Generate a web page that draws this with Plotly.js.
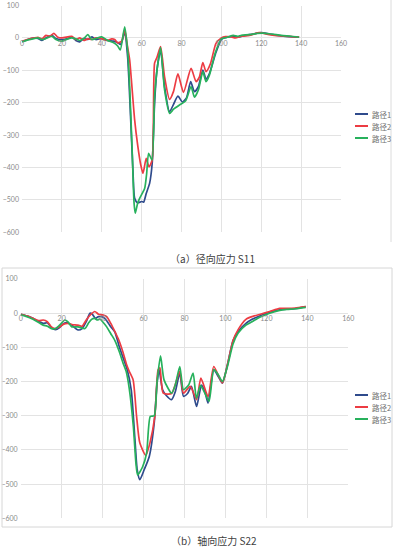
<!DOCTYPE html>
<html>
<head>
<meta charset="utf-8">
<script src="https://cdn.plot.ly/plotly-3.0.1.min.js"></script>
<style>html,body{margin:0;padding:0;background:#fff;}#chart{width:395px;height:549px;}</style>
</head>
<body>
<div id="chart"></div>
<script>
// ---- data ----
const seriesNames = ['路径1', '路径2', '路径3'];
const captionA = '（a）径向应力 S11';
const captionB = '（b）轴向应力 S22';
const xTickVals = [0, 20, 40, 60, 80, 100, 120, 140, 160];
const yTickVals = [100, 0, -100, -200, -300, -400, -500, -600];

// (a) S11
const s11P1X = [0,3,6,8,10,12,15,17,20,23,25,27,29,31,33,35,37,40,43,46,48,49.5,51.5,53,54.5,55.7,56.5,58,60,61,62.3,64,65.3,66.5,67.7,69.5,71.5,74,76,78.2,80.5,82.5,84.6,86.5,88.5,90.7,92.3,94,97,100,103,106,109,112,116,120,124,128,132,136,139];
const s11P1Y = [-12,-5,0,-2,-8,0,8,-2,-5,-2,3,-8,-12,-2,-5,3,-5,-2,-8,-10,-15,-20,15,-60,-250,-418,-495,-509,-505,-507,-480,-449,-387,-202,-99,-38,-150,-228,-205,-180,-198,-185,-135,-166,-150,-99,-127,-110,-50,-5,2,5,3,8,12,16,12,8,5,3,2];
const s11P2X = [0,3,6,8,10,12,14,16,18,20,23,25,27,29,31,33,35,37,40,43,45,46.5,48,50,51.5,53,54,55,56.5,58,59.5,60.7,62.3,63.7,65.3,66.5,67.7,69.5,71.5,74,76,78.2,81,84.8,87.3,89,90.7,92.3,94.5,97.3,100,102,105,107,110,114,119,124,130,135,139];
const s11P2Y = [-10,-4,0,2,-3,8,5,14,2,0,3,5,-5,0,-8,-3,-5,0,-2,-8,-3,-5,-15,-10,25,-30,-68,-140,-253,-330,-390,-418,-372,-398,-377,-78,-60,-27,-120,-190,-165,-111,-168,-94,-135,-120,-76,-104,-80,-17,0,4,3,0,5,8,16,10,6,4,3];
const s11P3X = [0,3,6,8,10,12,15,17,20,23,25,27,29,31,33,35,37,40,43,46,48,49.3,51.5,53,54,55.3,56.2,56.8,58,59,61.5,62.5,63.5,65.2,66.5,67.7,69.5,71.5,74,76,79,82,84.8,86.5,88.5,90.7,92.3,94,97,100,103,106,108,110,114,118,121,125,130,135,139];
const s11P3Y = [-12,-6,-2,0,-5,-2,5,-5,-10,-3,0,-3,-8,-2,10,-5,-2,3,-8,-15,-25,-37,34,-40,-150,-356,-509,-541,-510,-495,-465,-420,-356,-377,-180,-100,-30,-160,-233,-220,-207,-195,-150,-183,-160,-104,-135,-115,-45,-3,2,8,5,8,10,14,15,12,8,5,2];

// (b) S22
const s22P1X = [0,3,6,9,11,13,15,17,19,21,23,25,28,30,32,33.8,35,36.5,38,40.3,42,44,46,48,50,52,54,55.8,56.9,58.2,60.3,62.8,65.2,66.6,67.6,69.3,71,73.7,75.5,77.7,79.5,81.5,83.4,85.9,88.3,90,91.5,94.3,96.5,98.5,101,103.7,106.2,110,113,116.7,121.6,126.5,130,134,139.2];
const s22P1Y = [-3,-8,-15,-25,-30,-28,-42,-48,-42,-30,-28,-35,-49,-45,-25,0,-3,-15,-10,-12,-22,-40,-55,-95,-130,-165,-225,-370,-458,-487,-458,-419,-322,-205,-166,-224,-240,-253,-230,-175,-243,-235,-214,-273,-210,-230,-263,-166,-185,-205,-150,-80,-54,-30,-18,-8,3,10,12,13,19];
const s22P2X = [0,3,6,9,11,13,15,17,19,21,23,25,28,30,32,34,36.2,38,40,42,44,46,48,50,51.7,53,54.9,56.6,58.2,61.1,63.1,65.5,67.1,68,69.6,73.7,77.7,79.5,82.8,85.9,88,91.5,94.3,98.5,101,103.7,106.2,110,113,117,121.6,126.5,130,134,139.2];
const s22P2Y = [-3,-8,-15,-22,-20,-25,-40,-45,-40,-32,-30,-33,-35,-38,-20,-5,5,-3,-5,-10,-30,-54,-80,-115,-150,-170,-195,-302,-380,-416,-380,-302,-166,-160,-234,-235,-170,-234,-214,-253,-190,-244,-156,-204,-150,-80,-48,-18,-10,-3,5,14,14,15,19];
const s22P3X = [0,3,6,9,11,13,15,17,19,21.6,23,25,28,31.4,33,34.6,36,37.5,38.7,40,42,44,46,48,50,51.5,53,55,56.3,57.1,59.5,61.5,63.3,65.2,66.6,68.3,70,73.7,75.5,77.7,79.5,82,84.2,85.8,87.8,90,92,94.3,96.5,98.5,101,103.7,106.2,110,113,116.7,121.6,126.5,130,134,139.2];
const s22P3Y = [-5,-10,-18,-28,-35,-38,-45,-45,-35,-20,-25,-40,-40,-45,-30,-18,-15,-20,-17,-25,-40,-60,-80,-110,-146,-170,-220,-330,-440,-473,-450,-409,-302,-300,-200,-125,-195,-234,-210,-156,-224,-210,-175,-249,-211,-235,-258,-165,-180,-200,-155,-90,-58,-35,-25,-12,0,8,11,13,17];

// ---- styling ----
const colors = ['#2f4b8c', '#ec3c43', '#27b15c'];
const W = 395, H = 549;
const px = v => v / W;
const py = v => 1 - v / H;
const gridColor = '#e3e3e3';
const tickFont = {family: 'Lato, "Liberation Sans", sans-serif', size: 7, color: '#8a8a8a'};

function mk(x, y, i, xa, ya) {
  return {
    x: x, y: y, type: 'scatter', mode: 'lines', name: seriesNames[i],
    xaxis: xa, yaxis: ya, showlegend: false,
    line: {color: colors[i], width: 1.7, shape: 'spline', smoothing: 0.6},
    hoverinfo: 'skip'
  };
}

const traces = [
  mk(s11P1X, s11P1Y, 0, 'x', 'y'),
  mk(s11P2X, s11P2Y, 1, 'x', 'y'),
  mk(s11P3X, s11P3Y, 2, 'x', 'y'),
  mk(s22P1X, s22P1Y, 0, 'x2', 'y2'),
  mk(s22P2X, s22P2Y, 1, 'x2', 'y2'),
  mk(s22P3X, s22P3Y, 2, 'x2', 'y2')
];

function xAx(domain, pos) {
  return {
    domain: domain, range: [0, 160], anchor: 'free', position: pos,
    tickvals: xTickVals, showgrid: true, gridcolor: gridColor, gridwidth: 1,
    zeroline: false, showline: false, ticks: '', tickfont: tickFont, fixedrange: true
  };
}
function yAx(domain, anchor) {
  return {
    domain: domain, range: [-600, 100], anchor: anchor,
    tickvals: yTickVals, showgrid: true, gridcolor: gridColor, gridwidth: 1,
    zeroline: false, showline: false, ticks: '', tickfont: tickFont, fixedrange: true,
    ticklabelstandoff: 2
  };
}

const shapes = [];
const annotations = [];

// frames
shapes.push({type: 'rect', xref: 'paper', yref: 'paper', x0: px(2), x1: px(392), y0: py(527), y1: py(268), line: {color: '#d6d6d6', width: 1}});
shapes.push({type: 'line', xref: 'paper', yref: 'paper', x0: px(391), x1: px(391), y0: py(0), y1: py(242), line: {color: '#dcdcdc', width: 1}});

// manual legends
function legend(yTops) {
  seriesNames.forEach((n, i) => {
    const yy = yTops[i];
    shapes.push({type: 'line', xref: 'paper', yref: 'paper', x0: px(355), x1: px(368), y0: py(yy), y1: py(yy), line: {color: colors[i], width: 2}});
    annotations.push({xref: 'paper', yref: 'paper', x: px(369.5), y: py(yy), xanchor: 'left', yanchor: 'middle', text: n, showarrow: false,
      font: {family: '"Noto Sans CJK SC", sans-serif', size: 7.5, color: '#707070'}});
  });
}
legend([114, 126, 138]);
legend([395, 407, 419]);

// captions
annotations.push({xref: 'paper', yref: 'paper', x: px(212), y: py(258), xanchor: 'center', yanchor: 'middle', text: captionA, showarrow: false,
  font: {family: '"Noto Sans CJK SC", sans-serif', size: 10, color: '#404040'}});
annotations.push({xref: 'paper', yref: 'paper', x: px(214), y: py(540), xanchor: 'center', yanchor: 'middle', text: captionB, showarrow: false,
  font: {family: '"Noto Sans CJK SC", sans-serif', size: 10, color: '#404040'}});

const layout = {
  width: W, height: H,
  margin: {l: 0, r: 0, t: 0, b: 0},
  paper_bgcolor: '#ffffff', plot_bgcolor: 'rgba(0,0,0,0)',
  showlegend: false,
  xaxis: xAx([px(22), px(341)], py(37.9)),
  yaxis: yAx([py(232.3), py(5.5)], 'x'),
  xaxis2: xAx([px(20.7), px(348.3)], py(313.3)),
  yaxis2: yAx([py(518.3), py(279)], 'x2'),
  shapes: shapes,
  annotations: annotations
};

Plotly.newPlot('chart', traces, layout, {displayModeBar: false, staticPlot: true});
</script>
</body>
</html>
